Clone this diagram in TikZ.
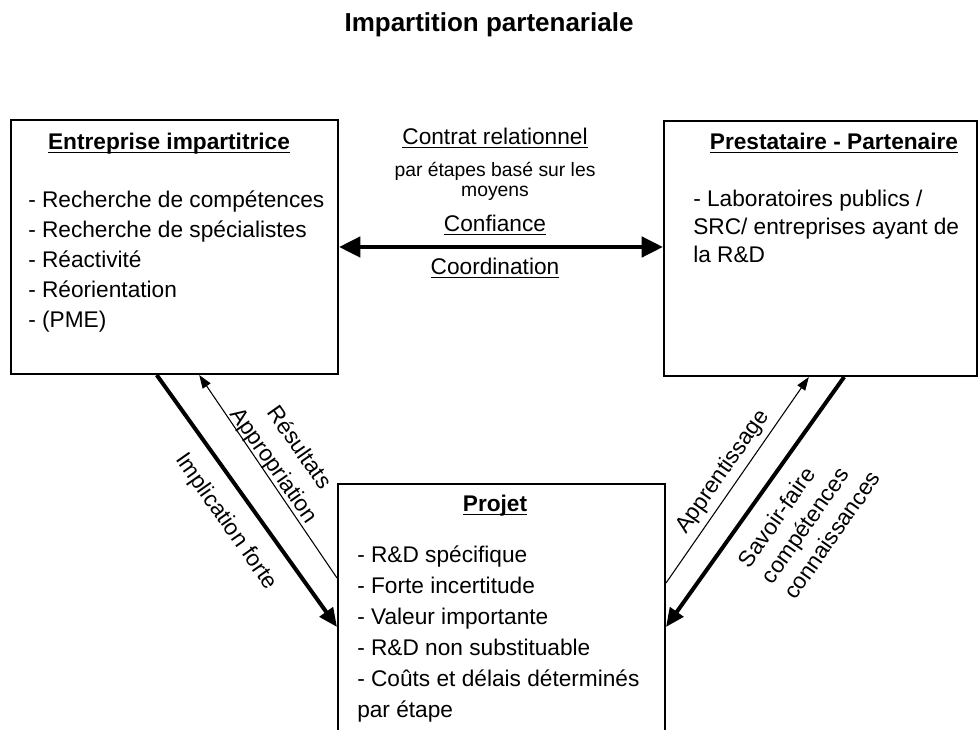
\documentclass[tikz,border=0pt]{standalone}
\usepackage{fontspec}
\setmainfont{Liberation Sans}
\usetikzlibrary{arrows.meta,calc}

% underline at a fixed depth, crossing the descenders
\newcommand{\ulword}[1]{\setbox0\hbox{#1}\rlap{\rule[-2.4pt]{\wd0}{1.1pt}}\box0}

\begin{document}
\begin{tikzpicture}[x=0.75pt,y=-0.75pt,
  box/.style={draw, line width=1.5pt, rectangle, inner sep=0pt, anchor=north west},
  body/.style={font=\fontsize{17}{22.5}\selectfont, align=left, inner sep=0pt},
  head/.style={font=\fontsize{17}{20}\selectfont\bfseries, inner sep=0pt, anchor=base},
  lbl/.style={font=\fontsize{17}{20}\selectfont, inner sep=0pt},
  heavy/.style={line width=3pt, -{Triangle[length=14pt,width=12pt]}},
  light/.style={line width=0.8pt, -{Triangle[length=10pt,width=7pt]}},
  dbl/.style={line width=3.4pt, {Triangle[length=16pt,width=15pt]}-{Triangle[length=16pt,width=15pt]}}]

\useasboundingbox (0,0) rectangle (978,730);
\clip (0,0) rectangle (978,730);

% title
\node[font=\fontsize{19.5}{22}\selectfont\bfseries, inner sep=0pt, anchor=base] (title) at (489,32) {Impartition partenariale};

% the three boxes
\node[box, minimum width=245.25pt, minimum height=190.5pt] (ent) at (10,119) {};
\node[box, minimum width=234.75pt, minimum height=191.25pt] (pre) at (663,120) {};
\node[box, minimum width=245.25pt, minimum height=207.75pt] (proj) at (337,483) {};

% box contents (multi-line nodes are placed by the baseline of their last line)
\node[head] (enth) at (169,150) {\ulword{Entreprise impartitrice}};
\node[body, anchor=base west] (entl) at (28,328) {- Recherche de compétences\\- Recherche de spécialistes\\- Réactivité\\- Réorientation\\- (PME)};

\node[head] (preh) at (834,150) {\ulword{Prestataire - Partenaire}};
\node[body, anchor=base west, font=\fontsize{17}{21}\selectfont] (prel) at (693,263) {- Laboratoires publics /\\SRC/ entreprises ayant de\\la R\&D};

\node[head] (projh) at (495,512) {\ulword{Projet}};
\node[body, anchor=base west, font=\fontsize{17}{23.25}\selectfont] (projl) at (357,717) {- R\&D spécifique\\- Forte incertitude\\- Valeur importante\\- R\&D non substituable\\- Coûts et délais déterminés\\par étape};

% relation between the firm and the partner
\node[lbl, anchor=base] (contrat) at (495,145) {\ulword{Contrat relationnel}};
\node[inner sep=0pt, anchor=base, align=center, font=\fontsize{14.5}{15}\selectfont] (etapes) at (495,197) {par étapes basé sur les\\moyens};
\node[lbl, anchor=base] (conf) at (495,232) {\ulword{Confiance}};
\node[lbl, anchor=base] (coord) at (495,275) {\ulword{Coordination}};
\draw[dbl] (ent.east) -- (ent.east -| pre.west);

% firm <-> project
\draw[heavy] ($(ent.south west)!0.446!(ent.south east)$) -- ($(proj.north west)+(0,144)$);
\draw[light] ($(proj.north west)+(0,95)$) -- ($(ent.south west)!0.575!(ent.south east)$);
\node[lbl, rotate=-55] (impl) at (226,522) {Implication forte};
\node[lbl, rotate=-55, align=center, font=\fontsize{17}{23}\selectfont] (resu) at (286,457) {Résultats\\Appropriation};

% partner <-> project
\draw[light] ($(proj.north east)+(0,100)$) -- ($(pre.south west)!0.463!(pre.south east)$);
\draw[heavy] ($(pre.south west)!0.575!(pre.south east)$) -- ($(proj.north east)+(0,144)$);
\node[lbl, rotate=55] (appr) at (723,472) {Apprentissage};
\node[lbl, rotate=55, align=left, font=\fontsize{17}{20.8}\selectfont] (savo) at (809,519) {Savoir-faire\\compétences\\connaissances};

\end{tikzpicture}
\end{document}
